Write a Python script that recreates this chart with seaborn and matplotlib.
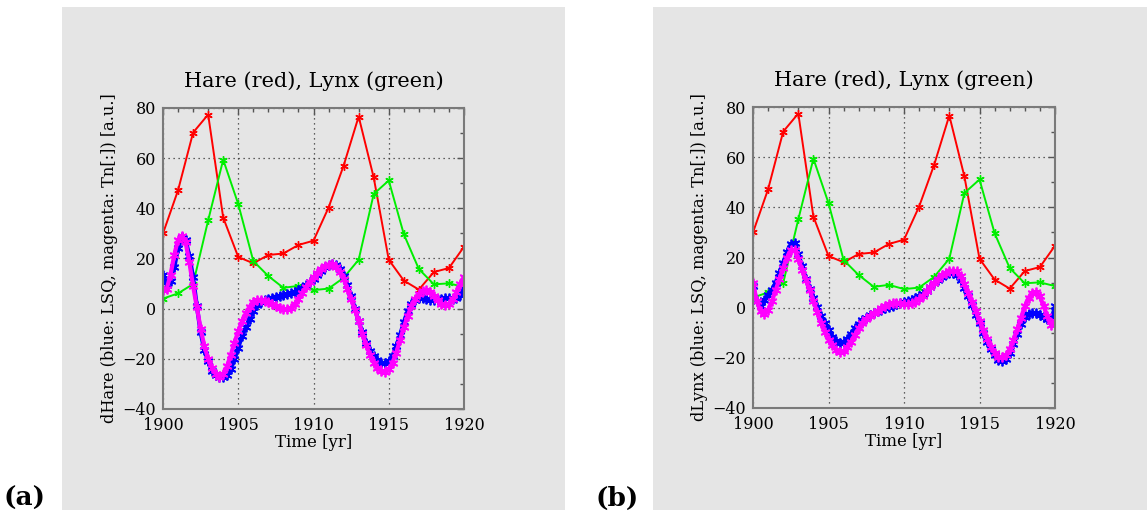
import numpy as np
import matplotlib
matplotlib.use("Agg")
import matplotlib.pyplot as plt
import seaborn as sns
from matplotlib.patches import Rectangle
from matplotlib.ticker import MultipleLocator

# yearly census data
years = np.arange(1900, 1921)
hare = [30.0, 47.2, 70.2, 77.4, 36.3, 20.6, 18.1, 21.4, 22.0, 25.4, 27.1,
        40.3, 57.0, 76.6, 52.3, 19.5, 11.2, 7.6, 14.6, 16.2, 24.7]
lynx = [4.0, 6.1, 9.8, 35.2, 59.4, 41.7, 19.0, 13.0, 8.3, 9.1, 7.4,
        8.0, 12.3, 19.5, 45.7, 51.1, 29.7, 15.8, 9.7, 10.1, 8.6]

# derivative curves, read every quarter year
t_fine = np.arange(1900, 1920.001, 0.25)
dhare_lsq = [13.5, 9.5, 11.0, 16.5, 24.0, 28.5, 27.5, 21.0, 12.5, 1.0,
             -9.5, -16.5, -21.0, -24.8, -26.5, -27.4, -27.3, -26.4, -24.0, -20.2,
             -15.5, -11.0, -7.5, -4.0, -0.8, 1.4, 2.8, 3.5, 4.0, 4.4,
             4.8, 5.1, 5.4, 5.8, 6.2, 6.8, 7.5, 8.3, 9.3, 10.6,
             12.0, 13.6, 15.2, 16.6, 17.5, 17.9, 17.4, 15.8, 13.0, 9.5,
             5.0, 0.0, -5.0, -9.5, -13.5, -16.8, -19.0, -20.5, -21.5, -21.8,
             -21.0, -18.8, -15.0, -10.5, -5.5, -1.0, 2.0, 3.6, 4.2, 4.2,
             3.9, 3.5, 3.4, 3.6, 4.0, 4.3, 4.2, 4.0, 4.2, 5.3, 8.5]
dhare_tn = [7.4, 8.0, 13.5, 21.5, 27.5, 29.0, 26.5, 18.5, 9.0, 0.5,
            -8.0, -15.0, -20.0, -23.5, -26.0, -27.2, -26.0, -23.0, -18.5, -13.5,
            -9.0, -5.0, -1.8, 0.8, 2.6, 3.4, 3.6, 3.2, 2.5, 1.7,
            0.9, 0.2, -0.2, -0.3, 0.3, 1.8, 3.8, 6.2, 8.6, 10.8,
            12.5, 14.2, 15.8, 17.0, 17.6, 17.7, 16.8, 14.8, 11.8, 8.0,
            4.0, -0.5, -5.0, -10.0, -14.5, -18.5, -21.5, -23.5, -24.8, -25.2,
            -24.2, -21.5, -17.5, -12.5, -7.5, -3.0, 1.0, 4.0, 6.0, 7.2,
            7.5, 6.8, 5.2, 3.5, 2.0, 1.4, 2.0, 4.0, 6.5, 10.0, 12.8]
dlynx_lsq = [8.7, 2.5, 0.8, 3.0, 5.2, 7.0, 10.0, 14.0, 18.0, 22.0,
             25.3, 25.8, 21.5, 16.5, 11.5, 7.5, 4.0, 0.3, -3.2, -6.3,
             -9.0, -11.5, -13.2, -14.0, -13.6, -12.5, -10.3, -8.2, -6.4, -5.0,
             -4.0, -3.1, -2.2, -1.5, -0.9, -0.3, 0.3, 0.8, 1.4, 2.0,
             2.4, 2.8, 3.2, 3.8, 4.5, 5.4, 6.8, 8.3, 9.8, 11.2,
             12.4, 13.3, 13.9, 14.0, 13.2, 11.0, 8.0, 4.5, 1.0, -2.8,
             -6.3, -10.0, -13.5, -16.5, -19.0, -20.7, -21.3, -20.5, -18.0, -14.5,
             -10.5, -6.5, -3.8, -2.5, -2.0, -2.2, -2.8, -3.6, -4.5, -5.0, 0.5]
dlynx_tn = [10.0, 2.5, -1.5, -2.6, -1.0, 2.5, 7.0, 11.5, 16.0, 20.0,
            22.8, 23.0, 19.5, 15.0, 11.0, 7.0, 2.8, -1.8, -6.0, -9.7,
            -12.8, -15.0, -16.8, -17.7, -17.3, -15.8, -13.5, -10.8, -8.3, -6.2,
            -4.6, -3.3, -2.2, -1.2, -0.2, 0.8, 1.5, 1.9, 2.0, 1.8,
            1.5, 1.4, 1.7, 2.4, 3.4, 4.8, 6.5, 8.3, 10.0, 11.6,
            12.9, 13.9, 14.5, 14.8, 14.5, 12.5, 9.5, 6.0, 2.3, -1.5,
            -5.2, -9.0, -12.5, -15.5, -18.0, -19.5, -19.8, -19.0, -16.5, -12.8,
            -8.5, -4.0, 0.5, 4.0, 6.0, 6.3, 4.5, 0.5, -3.5, -6.8, -5.3]

title = "Hare (red), Lynx (green)"
ylabels = ["dHare (blue: LSQ, magenta: Tn[:]) [a.u.]",
           "dLynx (blue: LSQ, magenta: Tn[:]) [a.u.]"]
panel_tags = ["(a)", "(b)"]

sns.set_style("white")
plt.rcParams["font.family"] = ["DejaVu Serif"]
plt.rcParams["axes.unicode_minus"] = True
for key in ["text.color", "axes.labelcolor", "xtick.color", "ytick.color"]:
    plt.rcParams[key] = "black"

fig = plt.figure(figsize=(11.47, 5.19), dpi=100)
W, H = 1147.0, 519.0

bg = "#e5e5e5"
panels = [
    # gray box (x0, x1), axes (left, right, top, bottom), tag x
    ((62, 565), (163, 464, 108, 409), 4),
    ((653, 1147), (753, 1055, 107, 408), 596),
]
star = (6, 2, 0)  # gnuplot-like asterisk


def curve(ax, x, y, color, ms, mew, lw):
    sns.lineplot(x=x, y=y, ax=ax, color=color, marker=star, markersize=ms,
                 markeredgewidth=mew, markeredgecolor=color, markerfacecolor=color,
                 linewidth=lw)


for k, (box, axbox, tagx) in enumerate(panels):
    fig.patches.append(Rectangle((box[0] / W, 9 / H), (box[1] - box[0]) / W, 503 / H,
                                 transform=fig.transFigure, facecolor=bg,
                                 edgecolor="none", zorder=-10))
    l, r, t, b = axbox
    ax = fig.add_axes([l / W, 1 - b / H, (r - l) / W, (b - t) / H])
    ax.set_facecolor("none")

    curve(ax, years, hare, "#ff0000", 6, 1.0, 1.4)
    curve(ax, years, lynx, "#00ee00", 6, 1.0, 1.4)
    d_lsq = dhare_lsq if k == 0 else dlynx_lsq
    d_tn = dhare_tn if k == 0 else dlynx_tn
    curve(ax, t_fine, d_lsq, "#0000ff", 7, 1.3, 3.0)
    curve(ax, t_fine, d_tn, "#ff00ff", 7, 1.3, 3.0)

    ax.set_xlim(1900, 1920)
    ax.set_ylim(-40, 80)
    ax.xaxis.set_major_locator(MultipleLocator(5))
    ax.xaxis.set_minor_locator(MultipleLocator(1))
    ax.yaxis.set_major_locator(MultipleLocator(20))
    ax.yaxis.set_minor_locator(MultipleLocator(10))
    ax.tick_params(which="both", direction="in", top=True, right=True,
                   color="#555555", labelsize=11.5)
    ax.tick_params(axis="x", pad=6)
    ax.tick_params(axis="y", pad=5)
    ax.tick_params(which="major", length=5, width=1)
    ax.tick_params(which="minor", length=3, width=1)
    ax.grid(True, which="major", linestyle=(0, (1, 3)), color="#333333", linewidth=0.9)
    for s in ax.spines.values():
        s.set_color("#7a7a7a")
        s.set_linewidth(1.5)
    ax.set_title(title, fontsize=15, pad=15)
    ax.set_xlabel("Time [yr]", fontsize=12, labelpad=0)
    ax.set_ylabel(ylabels[k], fontsize=11.7, labelpad=3)

    fig.text(tagx / W, 1 - 506 / H, panel_tags[k], fontsize=19, fontweight="bold",
             ha="left", va="baseline")

fig.savefig("out.png", dpi=100)
